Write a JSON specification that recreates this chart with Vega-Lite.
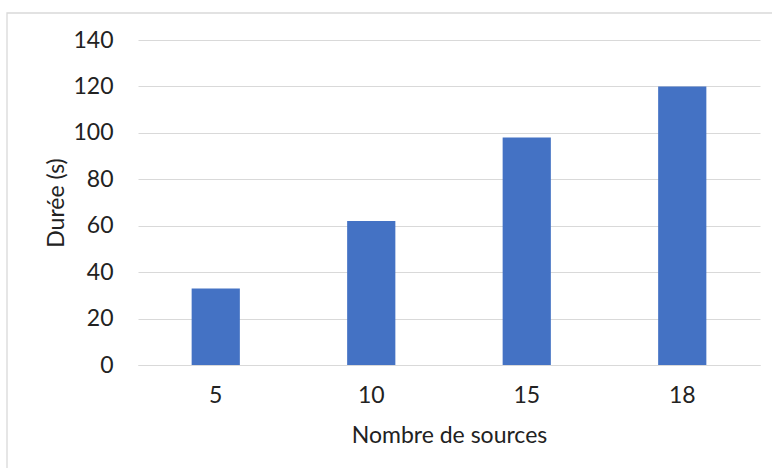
{
  "$schema": "https://vega.github.io/schema/vega-lite/v6.json",
  "autosize": {"type": "none"},
  "width": 622,
  "height": 325,
  "padding": {"left": 138, "top": 40, "right": 12, "bottom": 103},
  "background": "white",
  "config": {
    "view": {"stroke": null},
    "font": "Lato",
    "axis": {"labelFont": "Lato", "titleFont": "Lato", "labelColor": "#222222", "titleColor": "#222222", "labelFontSize": 23, "titleFontSize": 23, "titleFontWeight": "normal"}
  },
  "layer": [
    {
      "data": {"values": [{"sources": "5", "duree": 33}, {"sources": "10", "duree": 62}, {"sources": "15", "duree": 98}, {"sources": "18", "duree": 120}]},
      "mark": {"type": "bar", "color": "#4472C4"},
      "encoding": {
        "x": {"field": "sources", "type": "ordinal", "sort": null, "title": "Nombre de sources",
          "scale": {"paddingInner": 0.69, "paddingOuter": 0.345},
          "axis": {"labelAngle": 0, "ticks": false, "domain": true, "domainColor": "#d9d9d9", "domainWidth": 1, "labelPadding": 19, "titlePadding": 17}},
        "y": {"field": "duree", "type": "quantitative", "title": "Durée (s)",
          "scale": {"domain": [0, 140], "nice": false},
          "axis": {"values": [0, 20, 40, 60, 80, 100, 120, 140], "grid": true, "gridColor": "#d9d9d9", "gridWidth": 1, "domain": false, "ticks": false, "labelPadding": 25, "titlePadding": 4}}
      }
    },
    {
      "data": {"values": [{"a": 0}]},
      "mark": {"type": "rect", "fill": null, "stroke": "#d9d9d9", "strokeWidth": 1.3, "clip": false},
      "encoding": {
        "x": {"datum": 0, "type": "quantitative", "scale": {"domain": [0.16991, 0.97665], "nice": false, "zero": false}, "axis": null},
        "x2": {"datum": 1},
        "y": {"datum": 0, "type": "quantitative", "scale": {"domain": [0.24625, 0.94218], "nice": false, "zero": false}, "axis": null},
        "y2": {"datum": 1}
      }
    }
  ],
  "resolve": {"scale": {"x": "independent", "y": "independent"}}
}
